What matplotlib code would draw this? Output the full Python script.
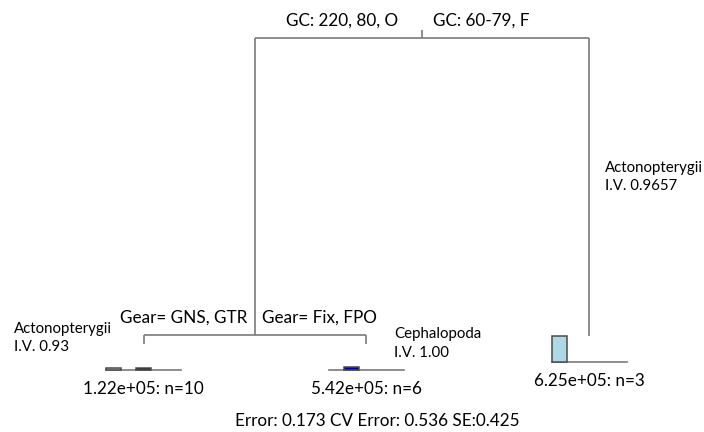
import matplotlib
matplotlib.use("Agg")
import matplotlib.pyplot as plt
from matplotlib.patches import Rectangle

# ---------------- data ----------------
split_root = ["GC: 220, 80, O", "GC: 60-79, F"]
split_left = ["Gear= GNS, GTR", "Gear= Fix, FPO"]
leaf_means = ["1.22e+05", "5.42e+05", "6.25e+05"]
leaf_n = [10, 6, 3]
leaf_taxa = ["Actonopterygii", "Cephalopoda", "Actonopterygii"]
leaf_iv = ["I.V. 0.93", "I.V. 1.00", "I.V. 0.9657"]
# relative deviance height of nodes (root = 1)
root_dev = 1.0
left_node_dev = 0.029
leaf_dev = [0.0, 0.0, 0.026]
# multivariate response bars per leaf (5 response groups)
leaf_bars = [
    [0.07, 0.0, 0.06, 0.0, 0.0],
    [0.0, 0.11, 0.0, 0.0, 0.0],
    [1.0, 0.0, 0.0, 0.0, 0.0],
]
bar_colors = ["#add8e6", "#0000a0", "#1a1a1a", "#888888", "#cccccc"]
err_text = "Error: 0.173 CV Error: 0.536 SE:0.425"

# ---------------- layout ----------------
W, H = 704, 432
fig = plt.figure(figsize=(W / 100, H / 100), dpi=100)
ax = fig.add_axes([0, 0, 1, 1])
ax.set_axis_off()
# x: leaf units (leaf i at x=i+1); y: deviance scale
xpx0, xstep = 143.5, 222.75
ypx0, ystep = 38.0, 306.0
ax.set_xlim(1 - xpx0 / xstep, 1 + (W - xpx0) / xstep)
ax.set_ylim(1 - (H - ypx0) / ystep, 1 + ypx0 / ystep)

def px(xp, yp):
    return 1 + (xp - xpx0) / xstep, 1 - (yp - ypx0) / ystep

line_kw = dict(color="#7a7a7a", lw=1.2, solid_capstyle="butt")
fontfam = ["Lato", "DejaVu Sans"]
FS_BIG = 12.3
FS_SMALL = 10.8

leaf_x = [1, 2, 3]
left_x = (leaf_x[0] + leaf_x[1]) / 2
root_x = (left_x + leaf_x[2]) / 2

# root split
ax.plot([left_x, leaf_x[2]], [root_dev, root_dev], **line_kw)
ax.plot([root_x, root_x], [root_dev, root_dev + 8 / ystep], **line_kw)
ax.plot([left_x, left_x], [root_dev, left_node_dev], **line_kw)
ax.plot([leaf_x[2], leaf_x[2]], [root_dev, leaf_dev[2]], **line_kw)
# left split
ax.plot([leaf_x[0], leaf_x[1]], [left_node_dev, left_node_dev], **line_kw)
for i in (0, 1):
    ax.plot([leaf_x[i], leaf_x[i]], [left_node_dev, leaf_dev[i]], **line_kw)

# leaf bar plots
box_h = 26 / ystep
box_w = 75 / xstep
nb = len(leaf_bars[0])
bw = box_w / nb
for i, vals in enumerate(leaf_bars):
    base = leaf_dev[i] - box_h
    x0 = leaf_x[i] - box_w / 2
    for j, v in enumerate(vals):
        if v > 0:
            ax.add_patch(Rectangle((x0 + j * bw, base), bw, v * box_h,
                                   facecolor=bar_colors[j], edgecolor="#4a4a4a",
                                   lw=1.1, zorder=3))
    ax.plot([x0, x0 + box_w], [base, base], color="#7a7a7a", lw=1.2, zorder=2)
    ax.text(leaf_x[i], base - 19 / ystep, f"{leaf_means[i]}: n={leaf_n[i]}",
            ha="center", va="center", fontsize=FS_BIG, family=fontfam)

# split labels
ax.text(*px(398, 21), split_root[0], ha="right", va="center", fontsize=FS_BIG, family=fontfam)
ax.text(*px(433, 21), split_root[1], ha="left", va="center", fontsize=FS_BIG, family=fontfam)
ax.text(*px(247, 318), split_left[0], ha="right", va="center", fontsize=FS_BIG, family=fontfam)
ax.text(*px(262, 318), split_left[1], ha="left", va="center", fontsize=FS_BIG, family=fontfam)

# leaf annotations
ax.text(*px(14, 329), leaf_taxa[0], ha="left", va="center", fontsize=FS_SMALL, family=fontfam)
ax.text(*px(14, 347), leaf_iv[0], ha="left", va="center", fontsize=FS_SMALL, family=fontfam)
ax.text(*px(394, 334), leaf_taxa[1], ha="left", va="center", fontsize=FS_SMALL, family=fontfam)
ax.text(*px(394, 353), leaf_iv[1], ha="left", va="center", fontsize=FS_SMALL, family=fontfam)
ax.text(*px(605, 168), leaf_taxa[2], ha="left", va="center", fontsize=FS_SMALL, family=fontfam)
ax.text(*px(605, 186), leaf_iv[2], ha="left", va="center", fontsize=FS_SMALL, family=fontfam)

ax.text(*px(377, 421), err_text, ha="center", va="center", fontsize=FS_BIG, family=fontfam)

fig.savefig("out.png", dpi=100, facecolor="white")
